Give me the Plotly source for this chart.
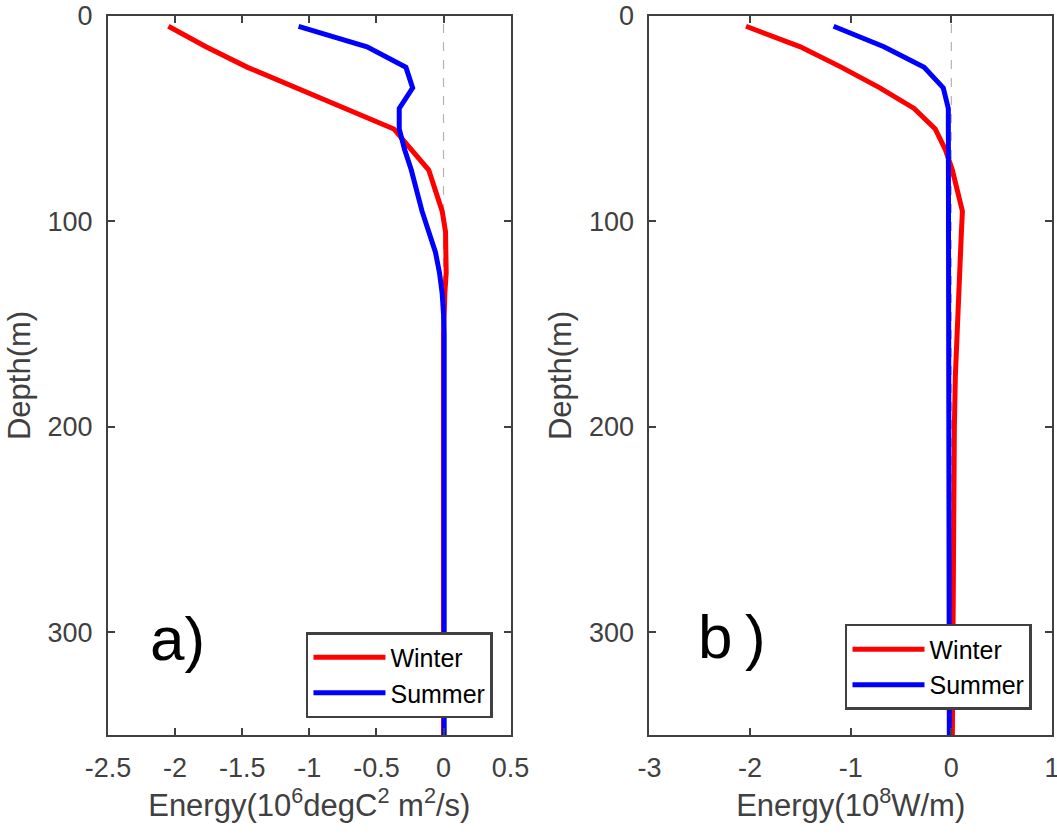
import plotly.graph_objects as go
from plotly.subplots import make_subplots

depth = [5, 15, 25, 35, 45, 55, 65, 75, 85, 95, 105, 115, 125, 135, 145, 155, 175, 200, 250, 300, 350]

winter_a = [-2.05, -1.77, -1.46, -1.09, -0.73, -0.37, -0.24, -0.11, -0.06, -0.01,
            0.015, 0.02, 0.02, 0.01, 0.005, 0.0, 0.0, 0.0, 0.0, 0.0, 0.0]
summer_a = [-1.08, -0.57, -0.28, -0.23, -0.33, -0.33, -0.29, -0.24, -0.20, -0.16,
            -0.11, -0.06, -0.03, -0.01, 0.0, 0.005, 0.005, 0.005, 0.005, 0.005, 0.005]

winter_b = [-2.04, -1.50, -1.09, -0.71, -0.37, -0.16, -0.06, 0.01, 0.06, 0.11,
            0.10, 0.09, 0.08, 0.07, 0.06, 0.05, 0.04, 0.03, 0.02, 0.01, 0.01]
summer_b = [-1.17, -0.67, -0.27, -0.08, -0.03, -0.03, -0.03, -0.03, -0.03, -0.03,
            -0.03, -0.03, -0.03, -0.03, -0.025, -0.025, -0.025, -0.02, -0.02, -0.02, -0.02]

xticks_a = [-2.5, -2, -1.5, -1, -0.5, 0, 0.5]
xticks_b = [-3, -2, -1, 0, 1]
yticks = [0, 100, 200, 300]

RED = "#ff0000"
BLUE = "#0000ff"
AX = "#404040"
FAM = "Liberation Sans, Arial, sans-serif"

fig = make_subplots(rows=1, cols=2, horizontal_spacing=0.147)

fig.add_trace(go.Scatter(x=winter_a, y=depth, mode="lines", name="Winter",
                         line=dict(color=RED, width=5), legend="legend"), row=1, col=1)
fig.add_trace(go.Scatter(x=summer_a, y=depth, mode="lines", name="Summer",
                         line=dict(color=BLUE, width=5), legend="legend"), row=1, col=1)
fig.add_trace(go.Scatter(x=winter_b, y=depth, mode="lines", name="Winter",
                         line=dict(color=RED, width=5), legend="legend2"), row=1, col=2)
fig.add_trace(go.Scatter(x=summer_b, y=depth, mode="lines", name="Summer",
                         line=dict(color=BLUE, width=5), legend="legend2"), row=1, col=2)

for c in (1, 2):
    fig.add_vline(x=0, line=dict(color="#b4b4b4", width=1.2, dash="dash"),
                  layer="below", row=1, col=c)

tickfont = dict(family=FAM, size=27, color=AX)
titlefont = dict(family=FAM, size=31, color=AX)

axis_common = dict(showline=True, linecolor=AX, linewidth=2, mirror="ticks",
                   ticks="inside", ticklen=7, tickwidth=2, tickcolor=AX,
                   showgrid=False, zeroline=False, automargin=False,
                   ticklabeloverflow="allow")

fig.update_xaxes(range=[-2.5, 0.5], tickvals=xticks_a,
                 ticktext=[f"{v:g}" for v in xticks_a], tickfont=tickfont,
                 ticklabelstandoff=8,
                 title=dict(text="Energy(10<sup>6</sup>degC<sup>2</sup> m<sup>2</sup>/s)",
                            font=titlefont, standoff=8),
                 row=1, col=1, **axis_common)
fig.update_xaxes(range=[-3, 1], tickvals=xticks_b,
                 ticktext=[f"{v:g}" for v in xticks_b], tickfont=tickfont,
                 ticklabelstandoff=8,
                 title=dict(text="Energy(10<sup>8</sup>W/m)", font=titlefont, standoff=8),
                 row=1, col=2, **axis_common)
for c in (1, 2):
    fig.update_yaxes(range=[350, 0], tickvals=yticks, tickfont=tickfont,
                     ticklabelstandoff=8,
                     title=dict(text="Depth(m)", font=titlefont, standoff=8),
                     row=1, col=c, **axis_common)

fig.add_annotation(x=-1.98, y=303, text="a)", showarrow=False, xref="x", yref="y",
                   font=dict(family=FAM, size=62, color="#000000"))
fig.add_annotation(x=-2.18, y=302, text="b\u2009)", showarrow=False, xref="x2", yref="y2",
                   font=dict(family=FAM, size=62, color="#000000"))

legend_common = dict(bgcolor="#ffffff", bordercolor=AX, borderwidth=2.5,
                     font=dict(family=FAM, size=25, color="#000000"),
                     xanchor="right", yanchor="bottom", tracegroupgap=0, itemwidth=72)
fig.update_layout(
    width=1057, height=834,
    margin=dict(l=108, r=5, t=16, b=99),
    paper_bgcolor="#ffffff", plot_bgcolor="#ffffff",
    showlegend=True,
    legend=dict(x=0.4078, y=0.0236, **legend_common),
    legend2=dict(x=0.9788, y=0.0348, **legend_common),
)

fig.write_html("out.html")
